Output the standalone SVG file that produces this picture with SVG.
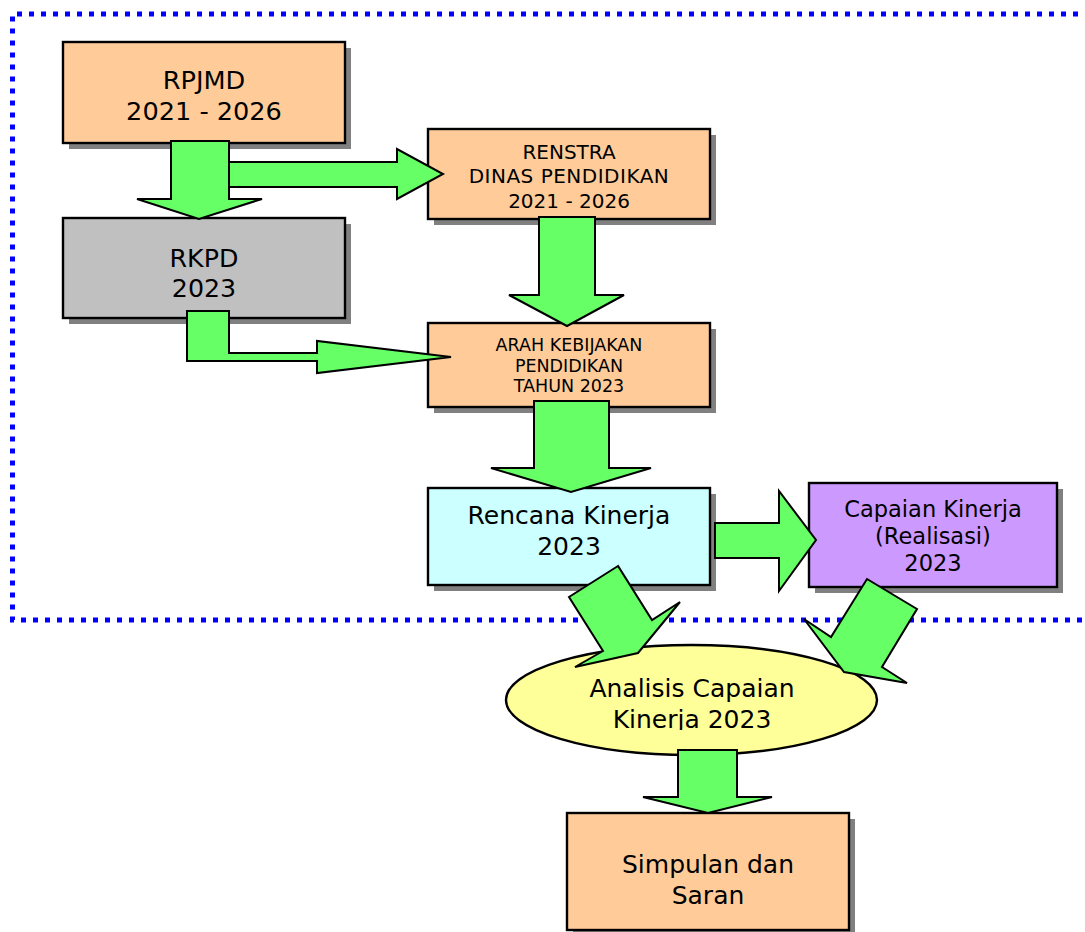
<svg xmlns="http://www.w3.org/2000/svg" width="1085" height="932" viewBox="0 0 1085 932">
<style>
.box{stroke:#000;stroke-width:2.4}
.sh{fill:#808080}
.arr{fill:#66FF66;stroke:#000;stroke-width:2;stroke-linejoin:miter}
text{font-family:"DejaVu Sans","Liberation Sans",sans-serif;fill:#000;text-anchor:middle}
.peach{fill:#FFCC99}
</style>
<defs>
<clipPath id="clipK"><rect x="500" y="640" width="400" height="90"/></clipPath>
</defs>
<rect width="1085" height="932" fill="#fff"/>
<path id="frame" d="M1090,14 H12.5 V620 H1090" fill="none" stroke="#0000FF" stroke-width="5" stroke-dasharray="5 7"/>

<g id="rpjmd">
<rect class="sh" x="69" y="48" width="282" height="101"/>
<rect class="box peach" x="63" y="42" width="282" height="101"/>
<text x="204" y="89" font-size="25.6">RPJMD</text>
<text x="204" y="120" font-size="25.6">2021 - 2026</text>
</g>
<g id="rkpd">
<rect class="sh" x="69" y="224" width="282" height="100"/>
<rect class="box" fill="#C0C0C0" x="63" y="218" width="282" height="100"/>
<text x="204" y="267" font-size="25.3">RKPD</text>
<text x="204" y="297" font-size="25.3">2023</text>
</g>
<g id="renstra">
<rect class="sh" x="434" y="135" width="282" height="90"/>
<rect class="box peach" x="428" y="129" width="282" height="90"/>
<text x="569" y="159" font-size="20">RENSTRA</text>
<text x="569" y="183" font-size="20" letter-spacing="0.5">DINAS PENDIDIKAN</text>
<text x="569" y="208" font-size="20">2021 - 2026</text>
</g>
<g id="arah">
<rect class="sh" x="434" y="329" width="282" height="84"/>
<rect class="box peach" x="428" y="323" width="282" height="84"/>
<text x="569" y="351" font-size="17.5">ARAH KEBIJAKAN</text>
<text x="569" y="372" font-size="17.5">PENDIDIKAN</text>
<text x="569" y="392" font-size="17.5">TAHUN 2023</text>
</g>
<g id="rencana">
<rect class="sh" x="434" y="494" width="282" height="97"/>
<rect class="box" fill="#CCFFFF" x="428" y="488" width="282" height="97"/>
<text x="569" y="524" font-size="25">Rencana Kinerja</text>
<text x="569" y="555" font-size="25">2023</text>
</g>
<g id="capaian">
<rect class="sh" x="815" y="489" width="248" height="104"/>
<rect class="box" fill="#CC99FF" x="809" y="483" width="248" height="104"/>
<text x="933" y="517" font-size="22.5">Capaian Kinerja</text>
<text x="933" y="544" font-size="22.5">(Realisasi)</text>
<text x="933" y="571" font-size="22.5">2023</text>
</g>
<g id="analisis">
<ellipse class="box" fill="#FFFF99" cx="691.5" cy="700" rx="185.5" ry="55"/>
<text x="692" y="697" font-size="25">Analisis Capaian</text>
<text x="692" y="728" font-size="25" clip-path="url(#clipK)">Kinerja 2023</text>
</g>
<g id="simpulan">
<rect class="sh" x="573" y="819" width="282" height="117"/>
<rect class="box peach" x="567" y="813" width="282" height="117"/>
<text x="708" y="873" font-size="25">Simpulan dan</text>
<text x="708" y="904" font-size="25">Saran</text>
</g>

<g id="connectors">
<polygon class="arr" points="226,162 397,162 397,149 443,174 397,199 397,187 226,187"/>
<polygon class="arr" points="171,141 229,141 229,199 262,199 199,219 137,199 171,199"/>
<polygon class="arr" points="187,311 229,311 229,353 317,353 317,341 451,357 317,373 317,361 187,361"/>
<polygon class="arr" points="539,217 595,217 595,295 624,295 567,326 509,295 539,295"/>
<polygon class="arr" points="534,401 609,401 609,468 651,468 571,492 491,468 534,468"/>
<polygon class="arr" points="715,523 779,523 779,491 816,540 779,591 779,558 715,558"/>
<polygon class="arr" points="618,566 569,597 603,651 575,667 638,653 680,602 652,620"/>
<polygon class="arr" points="867,579 917,609 882,667 907,683 844,672 804,619 831,637"/>
<polygon class="arr" points="678,750 737,750 737,797 772,797 708,813 643,797 678,797"/>
</g>
</svg>
